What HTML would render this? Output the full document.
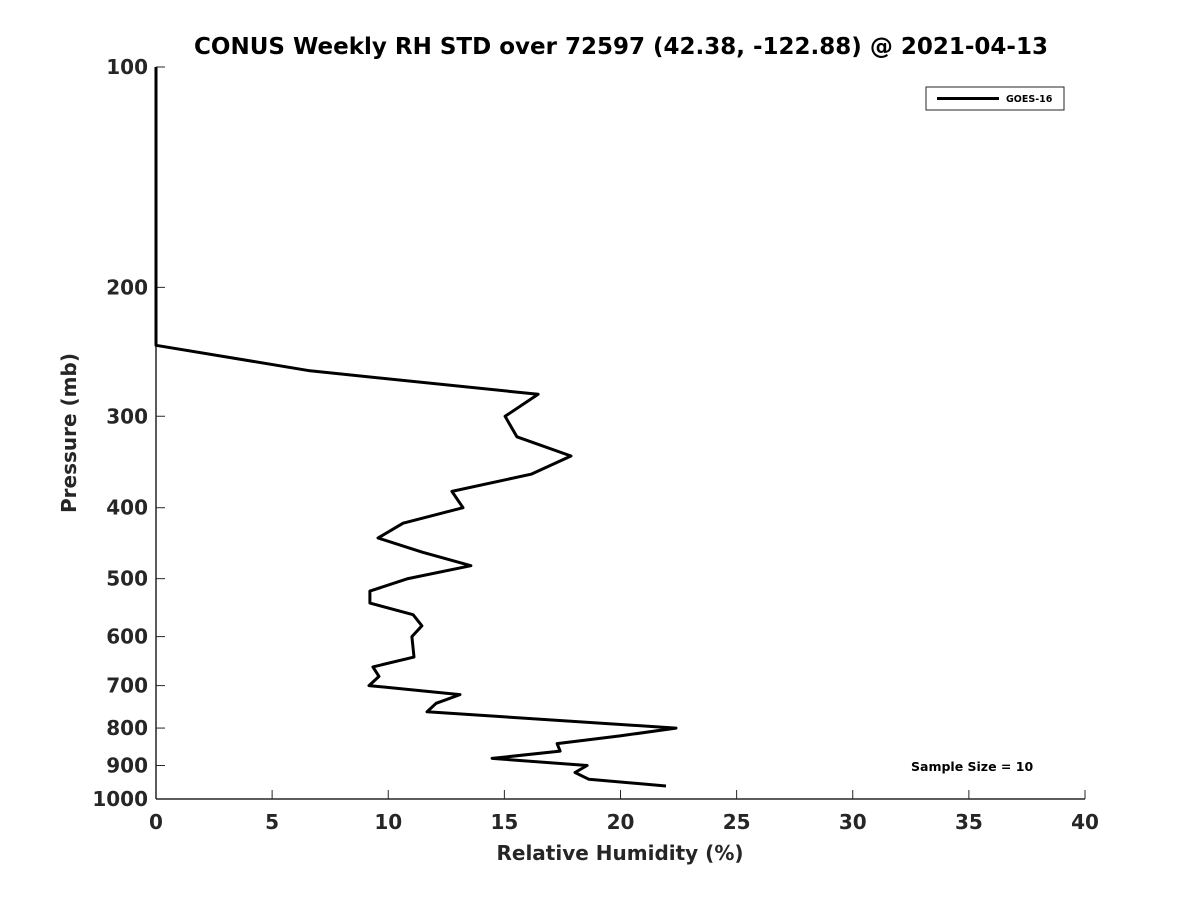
<!DOCTYPE html>
<html><head><meta charset="utf-8"><style>
body{margin:0;background:#fff;}
svg text{font-family:"DejaVu Sans","Liberation Sans",sans-serif;font-weight:bold;fill:#262626;}
</style></head><body>
<svg id="chart" width="1200" height="900" xmlns="http://www.w3.org/2000/svg">
<rect width="1200" height="900" fill="#fff"/>
<text x="621" y="54" text-anchor="middle" font-size="23" style="fill:#000">CONUS Weekly RH STD over 72597 (42.38, -122.88) @ 2021-04-13</text>
<g id="axes"></g>
<text x="620" y="860" text-anchor="middle" font-size="20">Relative Humidity (%)</text>
<text transform="translate(76,433) rotate(-90)" text-anchor="middle" font-size="20">Pressure (mb)</text>
<g>
<rect x="926" y="87" width="138" height="23" fill="#fff" stroke="#262626" stroke-width="1"/>
<line x1="937" y1="98.5" x2="999" y2="98.5" stroke="#000" stroke-width="3"/>
<text x="1006" y="102" font-size="9.5" style="fill:#000">GOES-16</text>
</g>
<text x="911" y="771" font-size="12.5" style="fill:#000">Sample Size = 10</text>
</svg>
<script>
const xTicks=[0,5,10,15,20,25,30,35,40];
const yTicks=[100,200,300,400,500,600,700,800,900,1000];
const pressure=[100,240,260,280,300,320,340,360,380,400,420,440,460,480,500,520,540,560,580,600,640,660,680,700,720,740,760,800,820,840,860,880,900,920,940,960];
const rhStd=[0,0,6.63,16.45,15.03,15.54,17.87,16.15,12.74,13.22,10.64,9.56,11.45,13.56,10.85,9.21,9.21,11.07,11.45,11.02,11.11,9.34,9.6,9.17,13.09,12.06,11.67,22.39,19.98,17.27,17.4,14.47,18.56,18.04,18.64,21.96];
const X0=156,X1=1085,Y0=67,Y1=799;
function xs(v){return X0+(v-0)/(40-0)*(X1-X0);}
function ys(p){return Y0+(Math.log10(p)-2)/(3-2)*(Y1-Y0);}
const NS="http://www.w3.org/2000/svg";
const g=document.getElementById('axes');
function mk(t,a){const e=document.createElementNS(NS,t);for(const k in a)e.setAttribute(k,a[k]);g.appendChild(e);return e;}
let ax=mk('line',{x1:X0,y1:Y1,x2:X1,y2:Y1,stroke:'#262626','stroke-width':1.5});


let ay=mk('line',{x1:X0,y1:Y0,x2:X0,y2:Y1,stroke:'#262626','stroke-width':1.5});


xTicks.forEach(v=>{
 const x=xs(v);
 mk('line',{x1:x,y1:Y1,x2:x,y2:Y1-9,stroke:'#262626','stroke-width':1});
 const t=mk('text',{x:x,y:Y1+30,'text-anchor':'middle','font-size':20});
 t.textContent=v;
 
 
});
yTicks.forEach(v=>{
 const y=ys(v);
 mk('line',{x1:X0,y1:y,x2:X0+9,y2:y,stroke:'#262626','stroke-width':1});
 const t=mk('text',{x:X0-8,y:y+7,'text-anchor':'end','font-size':20});
 t.textContent=v;
 
 
});
const pts=pressure.map((p,i)=>xs(rhStd[i]).toFixed(1)+','+ys(p).toFixed(1)).join(' ');
const pl=mk('polyline',{points:pts,fill:'none',stroke:'#000','stroke-width':3,'stroke-linejoin':'round'});


</script>
</body></html>
